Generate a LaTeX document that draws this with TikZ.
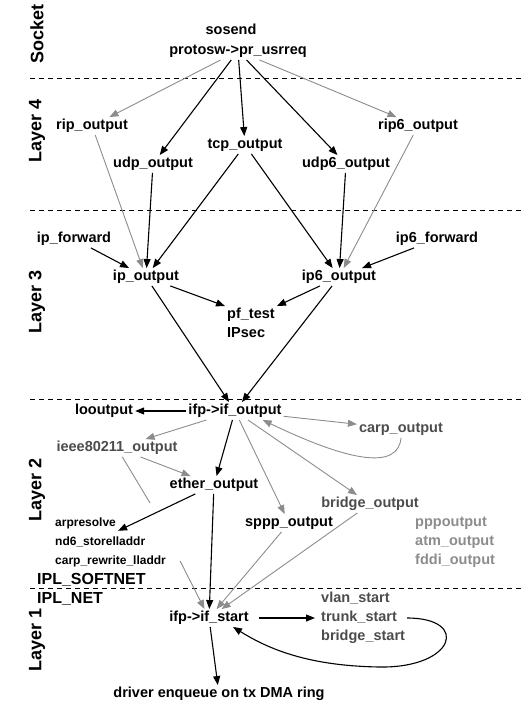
\documentclass[tikz,border=0pt]{standalone}
\usepackage{fontspec}
\setmainfont{Liberation Sans}
\usepackage{xcolor}
\usepackage{tikz}
\usetikzlibrary{arrows.meta}

\definecolor{linegray}{gray}{0.55}
\definecolor{softgray}{gray}{0.3}
\definecolor{palegray}{gray}{0.55}

\begin{document}
\begin{tikzpicture}[x=1pt,y=-1pt,
  fn/.style={inner sep=2pt,text height=10.5pt,text depth=3pt,font=\bfseries\fontsize{14.5}{17}\selectfont},
  sm/.style={inner sep=2pt,text height=8.7pt,text depth=2.5pt,font=\bfseries\fontsize{12}{14}\selectfont},
  ipl/.style={inner sep=2pt,font=\bfseries\fontsize{16}{18}\selectfont},
  lay/.style={rotate=90,inner sep=0pt,font=\bfseries\fontsize{18}{20}\selectfont},
  soft/.style={text=softgray},
  pale/.style={text=palegray},
  arr/.style={-{Triangle[length=9pt,width=7pt]},line width=1.1pt},
  garr/.style={-{Triangle[length=9pt,width=7pt]},line width=0.9pt,color=linegray},
  gline/.style={line width=0.9pt,draw=linegray},
  sep/.style={dash pattern=on 5pt off 4pt,line width=0.8pt}]
\useasboundingbox (0,0) rectangle (521,704);

% layers
\foreach \y in {78,210,399,588}
  \draw[sep] (30,\y) -- (521,\y);
\node[lay] (sock) at (37,34) {Socket};
\node[lay] (l4) at (37,131) {Layer 4};
\node[lay] (l3) at (37,302) {Layer 3};
\node[lay] (l2) at (37,490) {Layer 2};
\node[lay] (l1) at (37,640) {Layer 1};

% socket and layer 4
\node[fn] (sosend) at (231,31) {sosend};
\node[fn] (usrreq) at (238,51) {protosw->pr\_usrreq};
\node[fn] (rip) at (92,126) {rip\_output};
\node[fn] (udp) at (153,164) {udp\_output};
\node[fn] (tcp) at (245,145) {tcp\_output};
\node[fn] (udp6) at (346,164) {udp6\_output};
\node[fn] (rip6) at (418,126) {rip6\_output};

% layer 3
\node[fn] (ipfw) at (74,239) {ip\_forward};
\node[fn] (ip6fw) at (437,239) {ip6\_forward};
\node[fn] (ip) at (146,277) {ip\_output};
\node[fn] (ip6) at (339,277) {ip6\_output};
\node[fn,anchor=west] (pftest) at (225,315) {pf\_test};
\node[fn,anchor=west] (ipsec) at (225,334) {IPsec};

% layer 2
\node[fn] (ifout) at (235,411) {ifp->if\_output};
\node[fn] (lo) at (104,411) {looutput};
\node[fn,soft] (carp) at (401,429) {carp\_output};
\node[fn,soft] (wlan) at (117,448) {ieee80211\_output};
\node[fn] (ether) at (214,485) {ether\_output};
\node[fn,soft] (bridge) at (370,504) {bridge\_output};
\node[fn] (sppp) at (289,523) {sppp\_output};
\node[sm,anchor=west] (arp) at (53,523) {arpresolve};
\node[sm,anchor=west] (nd6) at (53,542) {nd6\_storelladdr};
\node[sm,anchor=west] (carprw) at (53,561) {carp\_rewrite\_lladdr};
\node[fn,pale,anchor=west] (ppp) at (413,523) {pppoutput};
\node[fn,pale,anchor=west] (atm) at (413,542) {atm\_output};
\node[fn,pale,anchor=west] (fddi) at (413,561) {fddi\_output};
\coordinate (wlanend) at (150,503);

% layer 1
\node[ipl,anchor=west] (softnet) at (35,580) {IPL\_SOFTNET};
\node[ipl,anchor=west] (iplnet) at (35,599) {IPL\_NET};
\node[fn] (ifstart) at (209,618) {ifp->if\_start};
\node[fn,soft,anchor=west] (vlan) at (319,599) {vlan\_start};
\node[fn,soft,anchor=west] (trunk) at (319,618) {trunk\_start};
\node[fn,soft,anchor=west] (brstart) at (319,637) {bridge\_start};
\node[fn] (drv) at (219,694) {driver enqueue on tx DMA ring};

\path[arr]
(usrreq) edge (udp)
	edge (tcp)
	edge (udp6)
(udp) edge (ip)
(tcp) edge (ip)
	edge (ip6)
(udp6) edge (ip6)
(ipfw) edge (ip)
(ip6fw) edge (ip6)
(ip) edge (pftest.north west)
	edge (ifout)
(ip6) edge (pftest.north east)
	edge (ifout)
(ifout) edge (lo)
	edge (ether)
(ether) edge (arp.south east)
	edge (ifstart)
(ifstart) edge [shorten <=8pt,shorten >=4pt] (trunk)
	edge (drv);

\path[garr]
(usrreq) edge (rip)
	edge (rip6)
(rip) edge (ip)
(rip6) edge (ip6)
(ifout) edge (carp)
	edge (wlan)
	edge (sppp)
	edge (bridge)
(wlan) edge (ether)
(sppp) edge (ifstart)
(bridge) edge (ifstart)
([xshift=12pt]carprw.east) edge (ifstart);

\draw[gline] (wlan) -- (wlanend);
\draw[garr] (carp.south) .. controls (398,470) and (350,462) .. ([xshift=-21pt]ifout.south east);
\draw[arr] ([xshift=8pt]trunk.east) .. controls (470,618) and (455,668) .. (380,667)
  .. controls (310,666) and (270,650) .. ([xshift=24pt]ifstart.south);
\end{tikzpicture}
\end{document}
